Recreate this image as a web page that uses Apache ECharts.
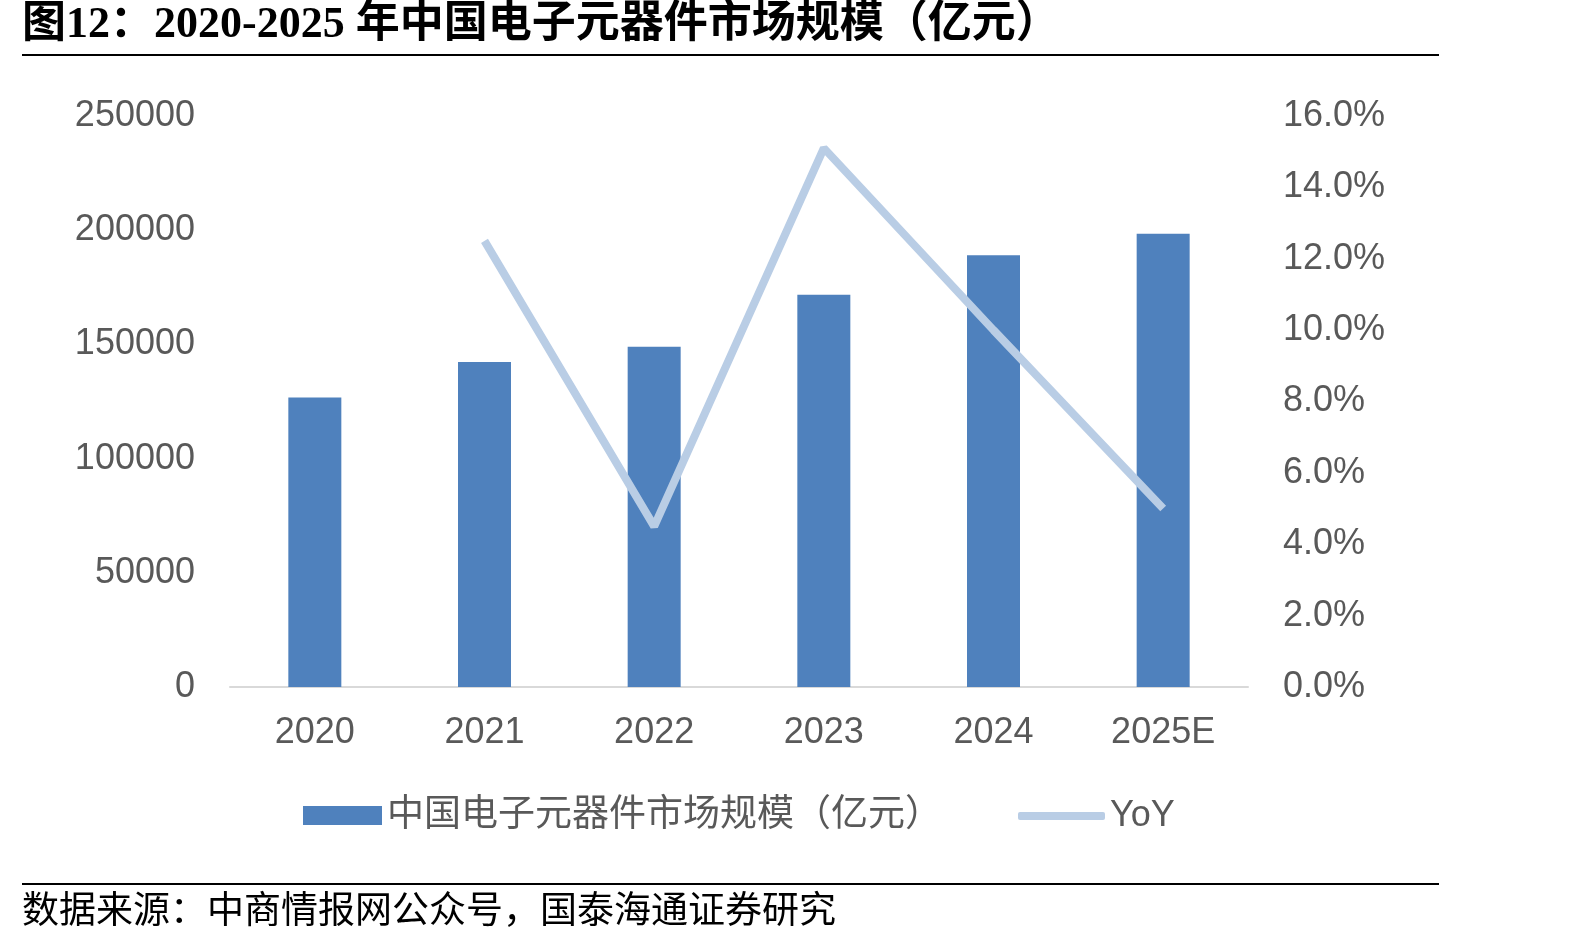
<!DOCTYPE html>
<html>
<head>
<meta charset="utf-8">
<script src="https://cdn.jsdelivr.net/npm/echarts@6/dist/echarts.min.js"></script>
<style>
  html, body { margin: 0; padding: 0; background: #fff; }
  #main { width: 1594px; height: 943px; }
</style>
</head>
<body>
<div id="main"></div>
<script>
// 数据
var years = ['2020', '2021', '2022', '2023', '2024', '2025E'];
var marketSize = [126800, 142300, 149000, 171700, 189000, 198400];   // 亿元
var yoy = [null, 12.5, 4.5, 15.1, 10.0, 5.0];                        // %
var leftTicks = { min: 0, max: 250000, interval: 50000 };
var rightTicks = { min: 0, max: 16, interval: 2 };

var barColor = '#4F81BD';
var lineColor = '#B9CDE5';
var labelColor = '#595959';
var numFont = 'Arial, "Liberation Sans", sans-serif';
var cjkFont = '"Liberation Sans", "Noto Sans CJK SC", sans-serif';

var myChart = echarts.init(document.getElementById('main'));

var option = {
    backgroundColor: '#fff',
    animation: false,
    grid: { left: 230, right: 346, top: 116, bottom: 256 },
    legend: [{
        data: [{ name: '中国电子元器件市场规模（亿元）', icon: 'rect' }],
        left: 298,
        top: 792,
        itemWidth: 79,
        itemHeight: 19,
        itemGap: 16,
        textStyle: { fontSize: 37, color: labelColor, fontFamily: cjkFont }
    }, {
        data: [{ name: 'YoY', icon: 'roundRect' }],
        left: 1013,
        top: 793,
        itemWidth: 87,
        itemHeight: 8,
        itemGap: 5,
        textStyle: { fontSize: 36, color: labelColor, fontFamily: numFont }
    }],
    xAxis: {
        type: 'category',
        data: years,
        axisLine: { lineStyle: { color: '#D9D9D9', width: 2 } },
        axisTick: { show: false },
        axisLabel: { fontSize: 36, color: labelColor, fontFamily: numFont, margin: 28 }
    },
    yAxis: [{
        type: 'value',
        min: leftTicks.min,
        max: leftTicks.max,
        interval: leftTicks.interval,
        splitLine: { show: false },
        axisLine: { show: false },
        axisTick: { show: false },
        axisLabel: {
            fontSize: 36, color: labelColor, fontFamily: numFont, margin: 35,
            padding: [12, 0, 0, 0],
            formatter: function (v) { return String(v); }
        }
    }, {
        type: 'value',
        min: rightTicks.min,
        max: rightTicks.max,
        interval: rightTicks.interval,
        splitLine: { show: false },
        axisLine: { show: false },
        axisTick: { show: false },
        axisLabel: {
            fontSize: 36, color: labelColor, fontFamily: numFont, margin: 35, align: 'left',
            padding: [12, 0, 0, 0],
            formatter: function (v) { return v.toFixed(1) + '%'; }
        }
    }],
    series: [{
        name: '中国电子元器件市场规模（亿元）',
        type: 'bar',
        data: marketSize,
        barWidth: 53,
        itemStyle: { color: barColor }
    }, {
        name: 'YoY',
        type: 'line',
        yAxisIndex: 1,
        data: yoy,
        symbol: 'none',
        lineStyle: { color: lineColor, width: 8 },
        itemStyle: { color: lineColor }
    }],
    graphic: [{
        type: 'text',
        left: 22,
        top: 4,
        style: {
            text: '图12：2020-2025 年中国电子元器件市场规模（亿元）',
            font: 'bold 44px "Liberation Serif", "Noto Sans CJK SC", serif',
            fill: '#000'
        }
    }, {
        type: 'rect',
        shape: { x: 22, y: 54, width: 1417, height: 2 },
        style: { fill: '#000' }
    }, {
        type: 'rect',
        shape: { x: 22, y: 883, width: 1417, height: 2 },
        style: { fill: '#000' }
    }, {
        type: 'text',
        left: 22,
        top: 890,
        style: {
            text: '数据来源：中商情报网公众号，国泰海通证券研究',
            font: '37px "Noto Sans CJK SC", serif',
            fill: '#000'
        }
    }]
};

myChart.setOption(option);
</script>
</body>
</html>
